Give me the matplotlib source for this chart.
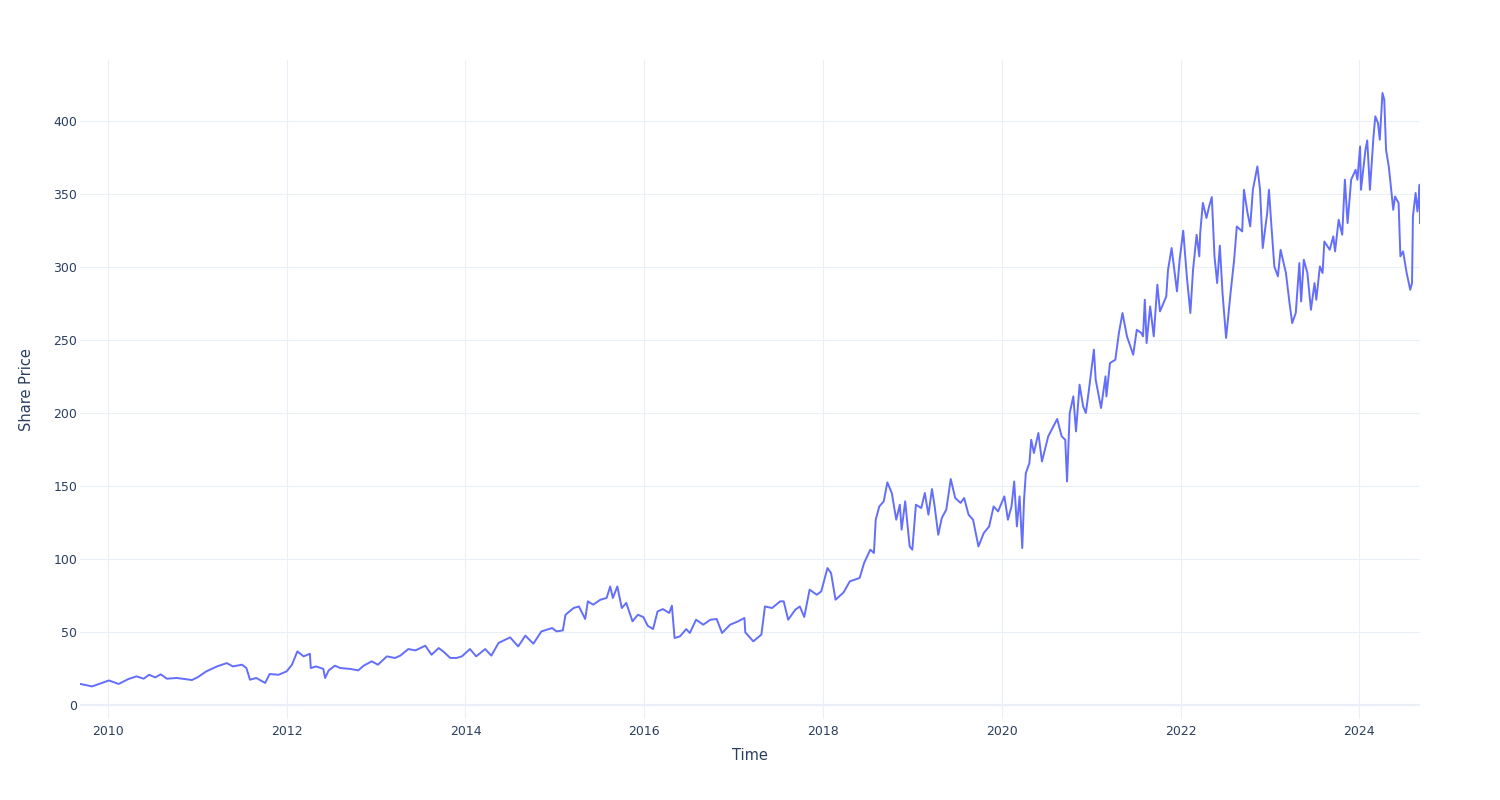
import matplotlib
matplotlib.use("Agg")
import matplotlib.pyplot as plt
import matplotlib.dates as mdates
import pandas as pd

# dates as decimal years, prices
years = [
    2009.687, 2009.75, 2009.82, 2009.91, 2010.01, 2010.12, 2010.23, 2010.32, 2010.40, 2010.46,
    2010.53, 2010.59, 2010.66, 2010.77, 2010.94, 2011.01, 2011.10, 2011.22, 2011.33, 2011.40,
    2011.50, 2011.55, 2011.59, 2011.66, 2011.76, 2011.81, 2011.91, 2012.00, 2012.06, 2012.12,
    2012.19, 2012.26, 2012.27, 2012.33, 2012.41, 2012.43, 2012.47, 2012.54, 2012.60, 2012.71,
    2012.80, 2012.86, 2012.95, 2013.02, 2013.12, 2013.21, 2013.27, 2013.36, 2013.44, 2013.55,
    2013.62, 2013.70, 2013.75, 2013.83, 2013.90, 2013.96, 2014.05, 2014.12, 2014.22, 2014.29,
    2014.37, 2014.50, 2014.59, 2014.67, 2014.76, 2014.85, 2014.97, 2015.02, 2015.09, 2015.12,
    2015.21, 2015.27, 2015.34, 2015.37, 2015.43, 2015.51, 2015.58, 2015.62, 2015.65, 2015.70,
    2015.75, 2015.80, 2015.87, 2015.93, 2015.99, 2016.04, 2016.10, 2016.15, 2016.21, 2016.28,
    2016.31, 2016.34, 2016.40, 2016.47, 2016.51, 2016.58, 2016.66, 2016.74, 2016.81, 2016.87,
    2016.96, 2017.05, 2017.12, 2017.13, 2017.22, 2017.31, 2017.35, 2017.43, 2017.52, 2017.56,
    2017.61, 2017.69, 2017.74, 2017.79, 2017.85, 2017.93, 2017.98, 2018.05, 2018.09, 2018.14,
    2018.23, 2018.30, 2018.41, 2018.46, 2018.53, 2018.57, 2018.59, 2018.63, 2018.68, 2018.72,
    2018.77, 2018.82, 2018.86, 2018.88, 2018.92, 2018.97, 2019.00, 2019.04, 2019.10, 2019.14,
    2019.18, 2019.22, 2019.25, 2019.29, 2019.33, 2019.38, 2019.43, 2019.48, 2019.54, 2019.58,
    2019.63, 2019.68, 2019.74, 2019.80, 2019.86, 2019.91, 2019.96, 2020.03, 2020.07, 2020.11,
    2020.14, 2020.17, 2020.20, 2020.23, 2020.25, 2020.27, 2020.31, 2020.33, 2020.36, 2020.41,
    2020.45, 2020.52, 2020.62, 2020.67, 2020.71, 2020.73, 2020.76, 2020.80, 2020.83, 2020.87,
    2020.91, 2020.94, 2020.97, 2021.03, 2021.05, 2021.11, 2021.16, 2021.17, 2021.21, 2021.27,
    2021.31, 2021.35, 2021.40, 2021.47, 2021.51, 2021.56, 2021.58, 2021.60, 2021.62, 2021.66,
    2021.70, 2021.74, 2021.77, 2021.84, 2021.86, 2021.90, 2021.96, 2021.99, 2022.03, 2022.07,
    2022.11, 2022.14, 2022.18, 2022.21, 2022.22, 2022.25, 2022.29, 2022.32, 2022.35, 2022.38,
    2022.41, 2022.44, 2022.47, 2022.51, 2022.56, 2022.60, 2022.63, 2022.69, 2022.71, 2022.75,
    2022.78, 2022.81, 2022.86, 2022.89, 2022.92, 2022.97, 2022.99, 2023.01, 2023.05, 2023.09,
    2023.12, 2023.18, 2023.22, 2023.25, 2023.29, 2023.33, 2023.35, 2023.38, 2023.42, 2023.46,
    2023.50, 2023.52, 2023.56, 2023.59, 2023.61, 2023.67, 2023.71, 2023.73, 2023.77, 2023.81,
    2023.84, 2023.87, 2023.91, 2023.96, 2023.98, 2024.01, 2024.02, 2024.07, 2024.09, 2024.12,
    2024.16, 2024.18, 2024.21, 2024.23, 2024.26, 2024.28, 2024.30, 2024.33, 2024.35, 2024.38,
    2024.40, 2024.44, 2024.46, 2024.49, 2024.53, 2024.57, 2024.59, 2024.60, 2024.63, 2024.65,
    2024.67, 2024.675, 2024.679,
]
prices = [
    14.2, 13.5, 12.5, 14.4, 16.6, 14.2, 17.6, 19.4, 17.8, 20.5,
    18.7, 20.8, 17.8, 18.3, 16.9, 19.0, 22.8, 26.2, 28.5, 26.2,
    27.4, 25.1, 17.1, 18.3, 14.9, 21.0, 20.5, 22.8, 27.4, 36.5,
    33.1, 34.9, 25.1, 26.2, 24.5, 18.3, 23.5, 26.7, 25.1, 24.5,
    23.5, 26.7, 29.7, 27.4, 33.1, 32.0, 33.6, 38.1, 37.2, 40.4,
    34.2, 38.8, 36.5, 32.0, 32.0, 33.1, 38.1, 33.1, 38.1, 33.6,
    42.3, 46.1, 39.9, 47.3, 41.8, 50.2, 52.5, 50.2, 50.9, 61.6,
    66.2, 67.3, 58.7, 70.8, 68.5, 71.9, 73.1, 81.0, 73.1, 81.0,
    66.2, 69.7, 57.1, 61.6, 60.1, 54.1, 51.8, 63.9, 65.5, 62.8,
    67.8, 45.7, 46.8, 51.8, 49.1, 58.2, 54.8, 58.2, 58.7, 49.1,
    54.8, 57.1, 59.4, 49.5, 43.4, 48.0, 67.3, 66.2, 70.8, 70.8,
    58.2, 65.1, 67.3, 60.1, 78.8, 75.3, 77.6, 93.6, 90.2, 71.9,
    76.9, 84.5, 86.8, 97.1, 106.2, 103.9, 126.7, 135.8, 139.3, 152.3,
    145.0, 126.7, 137.0, 119.9, 139.3, 108.4, 106.2, 137.0, 134.7, 145.0,
    130.1, 147.7, 135.8, 116.4, 127.9, 133.6, 154.6, 141.6, 138.2, 141.6,
    130.1, 126.7, 108.4, 117.6, 122.1, 135.8, 132.4, 142.7, 126.7, 135.8,
    152.9, 122.1, 142.7, 107.3, 140.4, 158.7, 165.5, 181.5, 172.4, 186.1,
    166.6, 183.8, 195.7, 183.8, 181.5, 152.9, 199.8, 211.2, 187.2, 219.2,
    204.3, 199.8, 213.5, 243.2, 222.6, 203.2, 224.9, 211.2, 234.0, 236.3,
    254.6, 268.3, 252.3, 239.7, 256.8, 254.6, 252.3, 277.4, 247.7, 272.8,
    252.3, 287.7, 269.4, 279.7, 297.9, 312.8, 283.1, 304.8, 324.7, 293.4,
    268.3, 297.9, 321.9, 307.1, 323.1, 343.7, 333.4, 341.3, 347.7, 307.1,
    288.8, 314.4, 282.0, 251.2, 282.0, 304.8, 327.6, 324.2, 352.7, 336.8,
    327.6, 352.7, 368.7, 352.7, 312.8, 336.8, 352.7, 334.4, 300.2, 293.4,
    311.6, 295.7, 275.1, 261.4, 268.3, 302.5, 276.2, 304.8, 295.7, 270.5,
    288.8, 277.4, 300.2, 295.7, 317.3, 311.6, 320.8, 310.5, 332.2, 321.9,
    359.6, 329.9, 359.6, 366.4, 359.6, 382.4, 352.7, 380.1, 386.5, 352.7,
    389.3, 403.0, 398.4, 387.0, 419.0, 414.4, 380.1, 368.7, 357.3, 339.0,
    348.1, 343.6, 307.1, 310.5, 295.7, 284.2, 288.8, 334.4, 350.5, 337.9,
    350.5, 356.2, 329.9,
]
tick_years = [2010, 2012, 2014, 2016, 2018, 2020, 2022, 2024]
y_ticks = [0, 50, 100, 150, 200, 250, 300, 350, 400]


def to_date(y):
    start = pd.Timestamp(year=int(y), month=1, day=1)
    end = pd.Timestamp(year=int(y) + 1, month=1, day=1)
    return start + (end - start) * (y - int(y))


dates = [to_date(y) for y in years]

grid_c = "#ebf0f8"
text_c = "#2a3f5f"

fig = plt.figure(figsize=(15, 8), dpi=100)
ax = fig.add_axes([80 / 1500, 1 - 719 / 800, 1340 / 1500, 659 / 800])

ax.plot(dates, prices, color="#636efa", linewidth=1.4, zorder=3)
ax.axhline(0, color=grid_c, linewidth=1.6, zorder=1)

ax.set_xlim(dates[0], dates[-1])
ax.set_ylim(-9.8, 441.6)
ax.set_xticks([pd.Timestamp(year=t, month=1, day=1) for t in tick_years])
ax.xaxis.set_major_formatter(mdates.DateFormatter("%Y"))
ax.set_yticks(y_ticks)

ax.grid(True, color=grid_c, linewidth=0.8)
ax.set_axisbelow(True)
for s in ax.spines.values():
    s.set_visible(False)
ax.tick_params(axis="both", length=0, labelsize=9, labelcolor=text_c)
ax.tick_params(axis="x", pad=4)
ax.tick_params(axis="y", pad=2)

ax.set_xlabel("Time", fontsize=10.5, color=text_c)
ax.xaxis.label.set_va("center")
ax.xaxis.set_label_coords(0.5, (719 - 756) / 659)
ax.set_ylabel("Share Price", fontsize=10.5, color=text_c)
ax.yaxis.label.set_va("center")
ax.yaxis.set_label_coords((27 - 80) / 1340, 0.5)

plt.savefig("out.png", dpi=100, facecolor="white")
